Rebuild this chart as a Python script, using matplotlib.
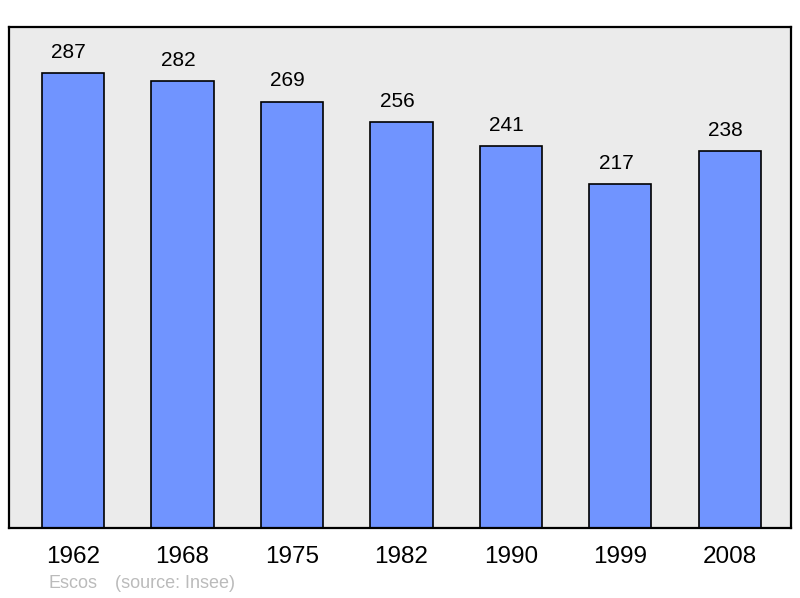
import matplotlib.pyplot as plt

years = ['1962', '1968', '1975', '1982', '1990', '1999', '2008']
population = [287, 282, 269, 256, 241, 217, 238]
commune = 'Escos'
source = '(source: Insee)'

plt.rcParams['font.family'] = ['Liberation Sans', 'DejaVu Sans']

fig = plt.figure(figsize=(8, 5.98), dpi=100)
ax = fig.add_axes([9 / 800, 70 / 598, 782 / 800, 501 / 598])
ax.set_facecolor('#ebebeb')

x = list(range(len(years)))
bars = ax.bar(x, population, width=0.57, color='#7094ff', edgecolor='black', linewidth=1.2)

for xi, v in zip(x, population):
    ax.annotate(str(v), (xi, v), xytext=(-3, 8), textcoords='offset points',
                ha='center', va='bottom', fontsize=15)

ax.set_xlim(-0.585, 6.56)
ax.set_ylim(0, 316)
ax.set_yticks([])
ax.set_xticks(x)
ax.set_xticklabels(years, fontsize=17.5)
ax.tick_params(axis='x', length=0, pad=13)
for s in ax.spines.values():
    s.set_linewidth(1.6)

fig.text(48 / 800, 1 - 584 / 598, commune, color='#bbbbbb', fontsize=13, va='center')
fig.text(115 / 800, 1 - 584 / 598, source, color='#bbbbbb', fontsize=13, va='center')

fig.savefig('out.png', dpi=100)
